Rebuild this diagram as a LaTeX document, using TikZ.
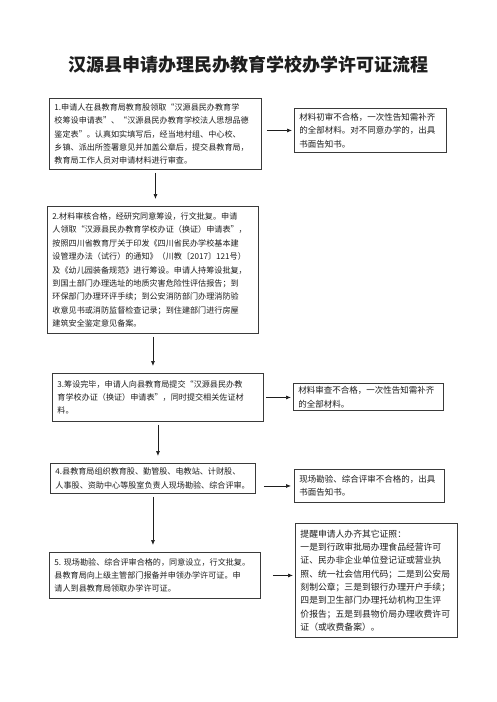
\documentclass[tikz,border=0pt]{standalone}
\usepackage{fontspec}
\usepackage{xcolor}
\usepackage{tikz}
\usetikzlibrary{arrows.meta,positioning,calc}
\newfontfamily\cjk{Noto Sans CJK SC}
\definecolor{Ink}{HTML}{1E1E1E}
\definecolor{Frame}{HTML}{3A3A3A}
\tikzset{
  stepbox/.style={draw=Frame,line width=0.9pt,fill=white,anchor=north west,inner xsep=5pt,inner ysep=3pt,align=left,font=\cjk\fontsize{8.1}{13.4}\selectfont,text=Ink},
  notebox/.style={stepbox,font=\cjk\fontsize{8.5}{13.4}\selectfont},
  arrow/.style={-{Latex[length=5pt,width=4pt]},line width=0.7pt,draw=Ink},
  titletext/.style={font=\cjk\bfseries\fontsize{18}{20}\selectfont,text=Ink}
}
\begin{document}
\begin{tikzpicture}[x=1pt,y=-1pt]
  \useasboundingbox (0,0) rectangle (496,702);
  \node[titletext] (title) at (248,65) {汉源县申请办理民办教育学校办学许可证流程};
  % main steps
  \node[stepbox,text width=202pt,minimum height=71pt] (b1) at (49,98)
    {1.申请人在县教育局教育股领取“汉源县民办教育学\\校筹设申请表”、“汉源县民办教育学校法人思想品德\\鉴定表”。认真如实填写后，经当地村组、中心校、\\乡镇、派出所签署意见并加盖公章后，提交县教育局，\\教育局工作人员对申请材料进行审查。};
  \node[stepbox,text width=201pt,minimum height=127pt] (b2) at (47,206)
    {2.材料审核合格，经研究同意筹设，行文批复。申请\\人领取“汉源县民办教育学校办证（换证）申请表”，\\按照四川省教育厅关于印发《四川省民办学校基本建\\设管理办法（试行）的通知》（川教〔2017〕121号）\\及《幼儿园装备规范》进行筹设。申请人持筹设批复，\\到国土部门办理选址的地质灾害危险性评估报告；到\\环保部门办理环评手续；到公安消防部门办理消防验\\收意见书或消防监督检查记录；到住建部门进行房屋\\建筑安全鉴定意见备案。};
  \node[stepbox,text width=201pt,minimum height=48pt] (b3) at (52,373)
    {3.筹设完毕，申请人向县教育局提交“汉源县民办教\\育学校办证（换证）申请表”，同时提交相关佐证材\\料。};
  \node[stepbox,text width=195pt,minimum height=30pt] (b4) at (50,463)
    {4.县教育局组织教育股、勤管股、电教站、计财股、\\人事股、资助中心等股室负责人现场勘验、综合评审。};
  \node[stepbox,text width=201pt,minimum height=46pt] (b5) at (49,552)
    {5.~现场勘验、综合评审合格的，同意设立，行文批复。\\县教育局向上级主管部门报备并申领办学许可证。申\\请人到县教育局领取办学许可证。};
  % side notes
  \node[notebox,text width=142pt,minimum height=44pt] (r1) at (294,108)
    {材料初审不合格，一次性告知需补齐\\的全部材料。对不同意办学的，出具\\书面告知书。};
  \node[notebox,text width=140pt,minimum height=23pt] (r2) at (293,383)
    {材料审查不合格，一次性告知需补齐\\的全部材料。};
  \node[notebox,text width=140pt,minimum height=33pt] (r3) at (294,469)
    {现场勘验、综合评审不合格的，出具\\书面告知书。};
  \node[notebox,text width=152pt,minimum height=114pt,font=\cjk\fontsize{8.8}{13.3}\selectfont] (r4) at (295,523)
    {提醒申请人办齐其它证照：\\一是到行政审批局办理食品经营许可\\证、民办非企业单位登记证或营业执\\照、统一社会信用代码；二是到公安局\\刻制公章；三是到银行办理开户手续；\\四是到卫生部门办理托幼机构卫生评\\价报告；五是到县物价局办理收费许可\\证（或收费备案）。};
  % flow
  \draw[arrow,shorten <=3pt,shorten >=7pt] (b1.south) -- (b1.south |- b2.north);
  \draw[arrow,shorten <=3pt,shorten >=7pt] (b2.south) -- (b2.south |- b3.north);
  \draw[arrow,shorten <=3pt,shorten >=7pt] (b3.south) -- (b3.south |- b4.north);
  \draw[arrow,shorten <=3pt,shorten >=7pt] (b4.south) -- (b4.south |- b5.north);
  \draw[arrow,shorten <=5pt,shorten >=2pt] (r1.west -| b1.east) -- (r1.west);
  \draw[arrow,shorten <=2pt,shorten >=2pt] (b3.east) -- (b3.east -| r2.west);
  \draw[arrow,shorten <=8pt,shorten >=3pt] (r3.west -| b4.east) -- (r3.west);
  \draw[arrow,shorten <=12pt,shorten >=2pt] (b5.east) -- (b5.east -| r4.west);
\end{tikzpicture}
\end{document}
